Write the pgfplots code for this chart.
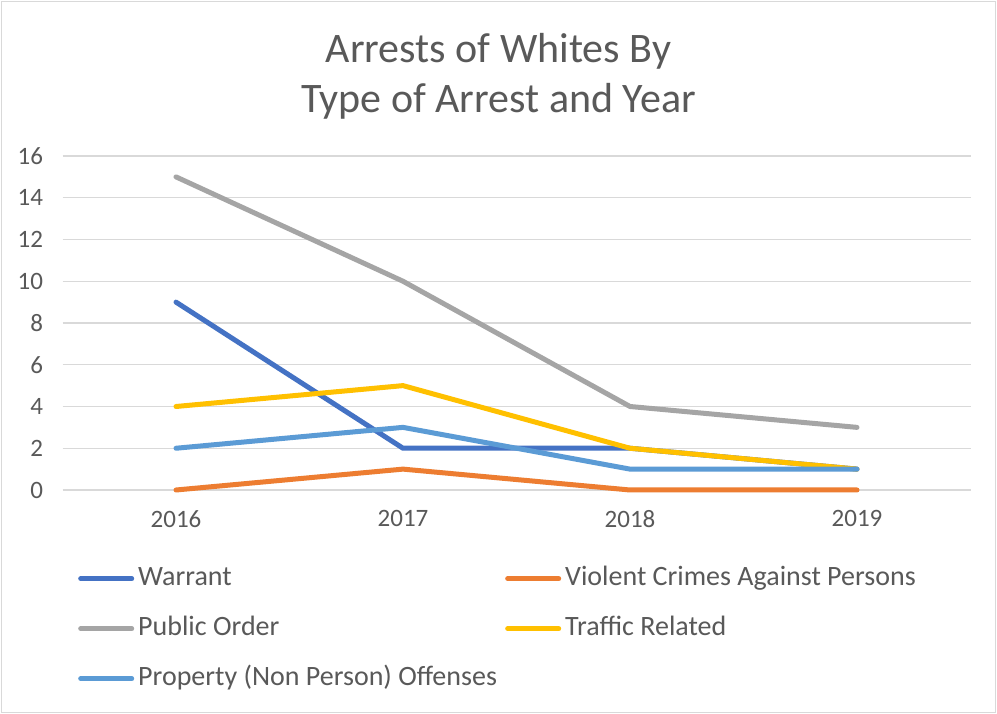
\documentclass[border=0pt]{standalone}
\usepackage{pgfplots}
\pgfplotsset{compat=1.18}
\usepackage{fontspec}
\setmainfont{Carlito}
\definecolor{txt}{HTML}{595959}
\definecolor{gridc}{HTML}{D9D9D9}
\definecolor{cWarrant}{HTML}{4472C4}
\definecolor{cViolent}{HTML}{ED7D31}
\definecolor{cPublic}{HTML}{A5A5A5}
\definecolor{cTraffic}{HTML}{FFC000}
\definecolor{cProperty}{HTML}{5B9BD5}
\begin{document}
\begin{tikzpicture}[x=1pt,y=1pt]
\useasboundingbox (0,0) rectangle (997,714);
\fill[white] (0,0) rectangle (997,714);
\draw[gridc, line width=1.2pt] (1.5,1.5) rectangle (995.5,712.5);
\node[align=center, font=\fontsize{42}{50}\selectfont, text=txt] at (498.5,638) {Arrests of Whites By\\Type of Arrest and Year};
\begin{axis}[
  at={(62.5pt,224pt)}, anchor=south west,
  scale only axis, width=908pt, height=334pt,
  xmin=-0.5, xmax=3.5, ymin=0, ymax=16,
  clip=false,
  xtick={0,1,2,3}, xticklabels={2016,2017,2018,2019},
  ytick={0,2,...,16},
  axis line style={draw=none},
  major tick length=0pt,
  ymajorgrids, grid style={gridc, line width=1.3pt},
  tick label style={font=\fontsize{25}{30}\selectfont, text=txt},
  /pgf/number format/assume math mode=true,
  yticklabel style={anchor=east, xshift=-16pt},
  xticklabel style={anchor=north, yshift=-17pt},
  every axis plot/.append style={line width=5pt, line cap=round, line join=round, mark=none},
  legend columns=2,
  legend cell align=left,
  legend style={draw=none, fill=none, at={(15.5pt,-74pt)}, anchor=north west,
    font=\fontsize{28}{32}\selectfont, text=txt, row sep=21pt, inner sep=0pt,
    nodes={inner sep=2pt, text height=19pt, text depth=6pt}},
  legend image code/.code={\draw[#1, line width=5pt, line cap=round] (2.5pt,0pt) -- (53.5pt,0pt);},
]
\addplot[cWarrant] coordinates {(0,9) (1,2) (2,2) (3,1)};
\addlegendentry{\makebox[367pt][l]{\hspace*{2pt}Warrant}}
\addplot[cViolent] coordinates {(0,0) (1,1) (2,0) (3,0)};
\addlegendentry{\hspace*{2pt}Violent Crimes Against Persons}
\addplot[cPublic] coordinates {(0,15) (1,10) (2,4) (3,3)};
\addlegendentry{\makebox[367pt][l]{\hspace*{2pt}Public Order}}
\addplot[cTraffic] coordinates {(0,4) (1,5) (2,2) (3,1)};
\addlegendentry{\hspace*{2pt}Traffic Related}
\addplot[cProperty] coordinates {(0,2) (1,3) (2,1) (3,1)};
\addlegendentry{\makebox[367pt][l]{\hspace*{2pt}Property (Non Person) Offenses}}
\end{axis}
\end{tikzpicture}
\end{document}
